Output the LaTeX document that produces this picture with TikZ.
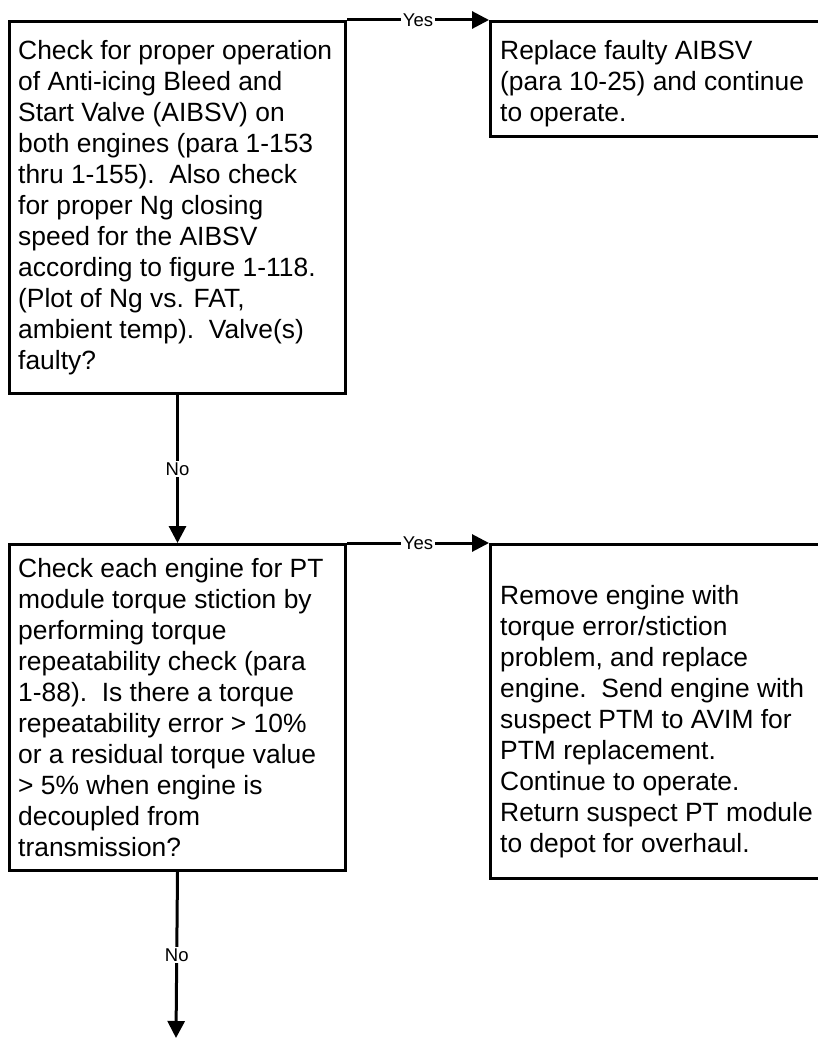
\documentclass[tikz,border=0pt]{standalone}
\usepackage{fontspec}
\setmainfont{Liberation Sans}
\usetikzlibrary{arrows.meta}
\begin{document}
\begin{tikzpicture}[x=1pt,y=-1pt,
  box/.style={draw, line width=3pt, rectangle, inner sep=0pt, anchor=north west},
  body/.style={anchor=west, inner sep=0pt, align=left, font=\fontsize{26.4}{31}\selectfont},
  flow/.style={line width=3pt, -{Triangle[length=17pt,width=17pt]}},
  lbl/.style={fill=white, inner sep=2pt, font=\fontsize{18.5}{21}\selectfont}]
\useasboundingbox (0,0) rectangle (818,1038);
\clip (0,0) rectangle (818,1038);

% decision boxes (left column)
\node[box, minimum width=336pt, minimum height=372pt] (q1) at (8,20) {};
\node[box, minimum width=336pt, minimum height=326pt] (q2) at (8,543) {};
% action boxes (right column, running off the page edge)
\node[box, minimum width=340pt, minimum height=115pt] (a1) at (489,20) {};
\node[box, minimum width=340pt, minimum height=334pt] (a2) at (489,543) {};

% box texts, placed on the middle of each box's left side
\node[body] (t1) at ([xshift=10pt]q1.west) {Check for proper operation\\
of Anti-icing Bleed and\\
Start Valve (AIBSV) on\\
both engines (para 1-153\\
thru 1-155).\ \ Also check\\
for proper Ng closing\\
speed for the AIBSV\\
according to figure 1-118.\\
(Plot of Ng vs. FAT,\\
ambient temp).\ \ Valve(s)\\
faulty?};
\node[body] (t2) at ([xshift=11pt, yshift=-5pt]a1.west) {Replace faulty AIBSV\\
(para 10-25) and continue\\
to operate.};
\node[body] (t3) at ([xshift=10pt]q2.west) {Check each engine for PT\\
module torque stiction by\\
performing torque\\
repeatability check (para\\
1-88).\ \ Is there a torque\\
repeatability error > 10\%\\
or a residual torque value\\
> 5\% when engine is\\
decoupled from\\
transmission?};
\node[body] (t4) at ([xshift=11pt, yshift=-10pt]a2.west) {Remove engine with\\
torque error/stiction\\
problem, and replace\\
engine.\ \ Send engine with\\
suspect PTM to AVIM for\\
PTM replacement.\\
Continue to operate.\\
Return suspect PT module\\
to depot for overhaul.};

% connectors
\coordinate (out) at (176,1038);
\draw[flow] (q1.north east) -- node[lbl] {Yes} (a1.north west);
\draw[flow] (q2.north east) -- node[lbl] {Yes} (a2.north west);
\draw[flow] (q1.south) -- node[lbl] {No} (q2.north);
\draw[flow] (q2.south) -- node[lbl] {No} (out);
\end{tikzpicture}
\end{document}
